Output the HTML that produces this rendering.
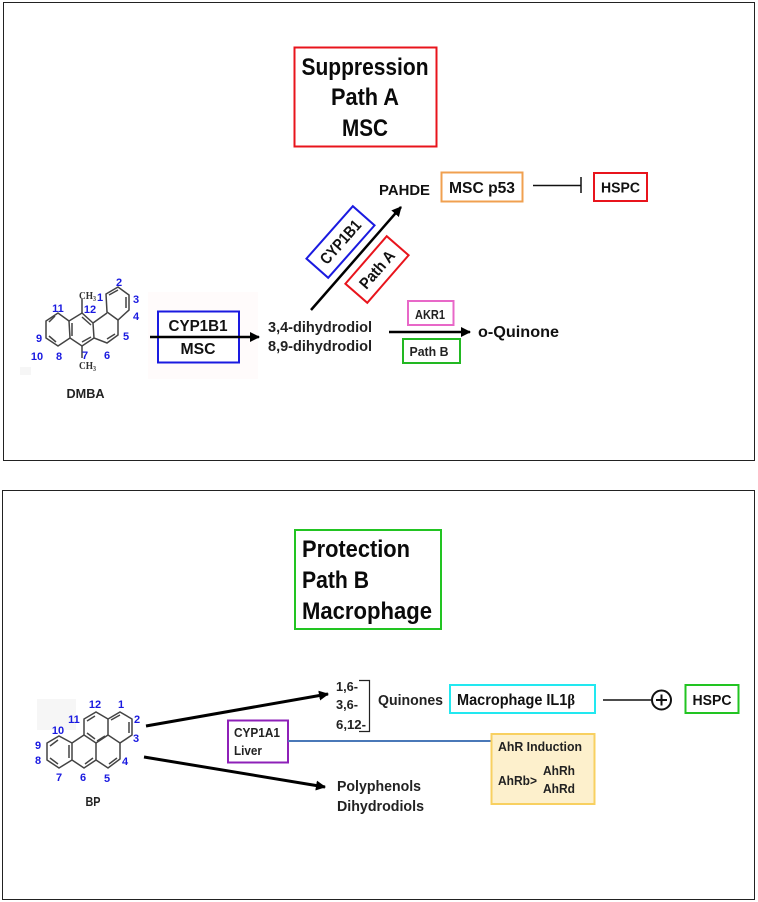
<!DOCTYPE html>
<html><head><meta charset="utf-8"><style>
html,body{margin:0;padding:0;background:#fff;width:758px;height:902px;overflow:hidden}
svg{display:block;font-family:"Liberation Sans",sans-serif;font-weight:bold}
</style></head><body>
<svg width="758" height="902" viewBox="0 0 758 902" xmlns="http://www.w3.org/2000/svg">
<defs>
<marker id="ah" markerUnits="userSpaceOnUse" markerWidth="12" markerHeight="12" refX="9" refY="5" orient="auto"><path d="M0 0L10 5L0 10Z" fill="#000"/></marker>
</defs>
<!-- panels -->
<rect x="3.5" y="2.5" width="751" height="458" fill="#fff" stroke="#222" stroke-width="1"/>
<rect x="2.5" y="490.5" width="752" height="409" fill="#fff" stroke="#222" stroke-width="1"/>
<rect x="148" y="292" width="110" height="87" fill="#fffbfb"/>
<rect x="20" y="367" width="11" height="8" fill="#f6f6f6"/>
<!-- titles -->
<rect x="294.500" y="47.500" width="142" height="99" fill="none" stroke="#e8141c" stroke-width="2"/>
<g fill="#0a0a0a" font-size="24" text-anchor="middle">
<text x="365" y="75" textLength="127" lengthAdjust="spacingAndGlyphs">Suppression</text>
<text x="365" y="105" textLength="68" lengthAdjust="spacingAndGlyphs">Path A</text>
<text x="365" y="136" textLength="46" lengthAdjust="spacingAndGlyphs">MSC</text>
</g>
<rect x="295" y="530" width="146" height="99" fill="none" stroke="#22c422" stroke-width="2"/>
<g fill="#0a0a0a" font-size="24">
<text x="302" y="557" textLength="108" lengthAdjust="spacingAndGlyphs">Protection</text>
<text x="302" y="588" textLength="67" lengthAdjust="spacingAndGlyphs">Path B</text>
<text x="302" y="619" textLength="130" lengthAdjust="spacingAndGlyphs">Macrophage</text>
</g>
<!-- DMBA -->
<g fill="none" stroke="#444" stroke-width="1.500">
<path d="M118 287L129 295V310L118 320L107 312L106 294Z"/>
<path d="M118 320V335L107 343L94 338L93 323L107 313"/>
<path d="M93 323L82 313L69 321L70 338L82 346L94 338"/>
<path d="M69 321L58 313L46 321V338L58 346L70 338"/>
<path d="M82 313V299M82 346V358"/>
<path d="M109 295L118 290M126 297V308M115 334L107 339M91 325L82 317M91 337L82 342M72 323V336M55 316L49 322M49 336L56 342"/>
</g>
<g fill="#333" font-family="Liberation Serif,serif" font-size="11" font-weight="bold">
<text x="79" y="299" textLength="17" lengthAdjust="spacingAndGlyphs">CH<tspan font-size="7" dy="2">3</tspan></text>
<text x="79" y="369" textLength="17" lengthAdjust="spacingAndGlyphs">CH<tspan font-size="7" dy="2">3</tspan></text>
</g>
<g fill="#1a1ae0" font-size="11" text-anchor="middle">
<text x="119" y="286">2</text><text x="100" y="301">1</text><text x="136" y="303">3</text><text x="136" y="320">4</text>
<text x="126" y="340">5</text><text x="107" y="359">6</text><text x="85" y="359">7</text><text x="59" y="360">8</text>
<text x="39" y="342">9</text><text x="37" y="360">10</text><text x="58" y="312">11</text><text x="90" y="313">12</text>
</g>
<text x="85.500" y="398" font-size="13" text-anchor="middle" fill="#222" textLength="38" lengthAdjust="spacingAndGlyphs">DMBA</text>
<rect x="158" y="311.500" width="81" height="51" fill="#fff" stroke="#1a1ae0" stroke-width="2"/>
<text x="198" y="331" font-size="16" text-anchor="middle" fill="#111" textLength="59" lengthAdjust="spacingAndGlyphs">CYP1B1</text>
<text x="198" y="354" font-size="16" text-anchor="middle" fill="#111" textLength="35" lengthAdjust="spacingAndGlyphs">MSC</text>
<line x1="150" y1="337" x2="259" y2="337" stroke="#000" stroke-width="2.500" marker-end="url(#ah)"/>
<g fill="#222" font-size="14.500">
<text x="268" y="332" textLength="104" lengthAdjust="spacingAndGlyphs">3,4-dihydrodiol</text>
<text x="268" y="351" textLength="104" lengthAdjust="spacingAndGlyphs">8,9-dihydrodiol</text>
</g>
<line x1="311" y1="310" x2="401" y2="207" stroke="#000" stroke-width="2.500" marker-end="url(#ah)"/>
<text x="379" y="195" font-size="15" fill="#111" textLength="51" lengthAdjust="spacingAndGlyphs">PAHDE</text>
<rect x="441.500" y="172.500" width="81" height="29" fill="none" stroke="#f0a050" stroke-width="2"/>
<text x="482" y="193" font-size="16" text-anchor="middle" fill="#111" textLength="66" lengthAdjust="spacingAndGlyphs">MSC p53</text>
<line x1="533" y1="185.500" x2="581" y2="185.500" stroke="#111" stroke-width="1.500"/>
<line x1="581" y1="177" x2="581" y2="193" stroke="#111" stroke-width="1.500"/>
<rect x="594" y="173" width="53" height="28" fill="none" stroke="#e8141c" stroke-width="2"/>
<text x="620.500" y="192.500" font-size="14.500" text-anchor="middle" fill="#111" textLength="39" lengthAdjust="spacingAndGlyphs">HSPC</text>
<g transform="translate(340.500,242) rotate(-48.500)">
<rect x="-35" y="-14.500" width="70" height="29" fill="#fff" stroke="#1a1ae0" stroke-width="2"/>
<text x="0" y="5.500" font-size="16" text-anchor="middle" fill="#111" textLength="53" lengthAdjust="spacingAndGlyphs">CYP1B1</text>
</g>
<g transform="translate(377,269.500) rotate(-49)">
<rect x="-31.500" y="-14.500" width="63" height="29" fill="#fff" stroke="#e8141c" stroke-width="2"/>
<text x="0" y="5.500" font-size="16" text-anchor="middle" fill="#111" textLength="45" lengthAdjust="spacingAndGlyphs">Path A</text>
</g>
<rect x="408" y="301" width="45.500" height="24" fill="none" stroke="#e868c8" stroke-width="2"/>
<text x="430" y="319" font-size="12.500" text-anchor="middle" fill="#222" textLength="30" lengthAdjust="spacingAndGlyphs">AKR1</text>
<line x1="389" y1="332" x2="470" y2="332" stroke="#000" stroke-width="2.500" marker-end="url(#ah)"/>
<text x="478" y="337" font-size="16" fill="#111" textLength="81" lengthAdjust="spacingAndGlyphs">o-Quinone</text>
<rect x="403" y="339" width="57" height="24" fill="none" stroke="#22b822" stroke-width="2"/>
<text x="429" y="356" font-size="12.500" text-anchor="middle" fill="#222" textLength="39" lengthAdjust="spacingAndGlyphs">Path B</text>
<!-- BP -->
<rect x="37" y="699" width="39" height="31" fill="#f6f6f6"/>
<g fill="none" stroke="#444" stroke-width="1.500">
<path d="M120 712L132 719V735L120 743L108 735V719Z"/>
<path d="M108 719L96 712L84 719V735L96 743L108 735"/>
<path d="M120 743V759L108 768L96 760V743"/>
<path d="M96 760L84 768L72 760V743L84 735"/>
<path d="M72 743L59 736L47 743V760L59 768L72 760"/>
<path d="M111 720L120 715M129 722V733M87 721L95 716M87 733L95 739M105 736L97 741M117 758L109 764M93 758L85 764M69 745V758M50 746L58 740M50 758L58 764"/>
</g>
<g fill="#1a1ae0" font-size="11" text-anchor="middle">
<text x="121" y="708">1</text><text x="137" y="723">2</text><text x="136" y="742">3</text><text x="125" y="765">4</text>
<text x="107" y="782">5</text><text x="83" y="781">6</text><text x="59" y="781">7</text><text x="38" y="764">8</text>
<text x="38" y="749">9</text><text x="58" y="734">10</text><text x="74" y="723">11</text><text x="95" y="708">12</text>
</g>
<text x="93" y="806" font-size="13" text-anchor="middle" fill="#222" textLength="15" lengthAdjust="spacingAndGlyphs">BP</text>
<line x1="146" y1="726" x2="328" y2="694" stroke="#000" stroke-width="3" marker-end="url(#ah)"/>
<line x1="144" y1="757" x2="325" y2="787" stroke="#000" stroke-width="3" marker-end="url(#ah)"/>
<rect x="228" y="720.500" width="60" height="42" fill="#fff" stroke="#8e20b8" stroke-width="2"/>
<text x="234" y="737" font-size="13" fill="#222" textLength="46" lengthAdjust="spacingAndGlyphs">CYP1A1</text>
<text x="234" y="755" font-size="13" fill="#222" textLength="28" lengthAdjust="spacingAndGlyphs">Liver</text>
<line x1="288" y1="741" x2="491" y2="741" stroke="#4a78b8" stroke-width="2"/>
<g fill="#222" font-size="12.500">
<text x="336" y="691" textLength="22" lengthAdjust="spacingAndGlyphs">1,6-</text>
<text x="336" y="709" textLength="22" lengthAdjust="spacingAndGlyphs">3,6-</text>
<text x="336" y="729" textLength="30" lengthAdjust="spacingAndGlyphs">6,12-</text>
</g>
<path d="M359 680.500H369.500V731.500H359" fill="none" stroke="#222" stroke-width="1.200"/>
<text x="378" y="705" font-size="14.500" fill="#222" textLength="65" lengthAdjust="spacingAndGlyphs">Quinones</text>
<rect x="450" y="685" width="145" height="28" fill="none" stroke="#22e8f0" stroke-width="2"/>
<text x="457" y="705" font-size="16" fill="#111" textLength="118" lengthAdjust="spacingAndGlyphs">Macrophage IL1<tspan font-family="Liberation Serif,serif">β</tspan></text>
<line x1="603" y1="700" x2="651" y2="700" stroke="#111" stroke-width="1.500"/>
<circle cx="661.500" cy="700" r="9.500" fill="#fff" stroke="#111" stroke-width="2"/>
<path d="M656 700H667M661.500 694.500V705.500" stroke="#111" stroke-width="2"/>
<rect x="685.500" y="685" width="53" height="28" fill="none" stroke="#22c422" stroke-width="2"/>
<text x="712" y="705" font-size="14.500" text-anchor="middle" fill="#111" textLength="39" lengthAdjust="spacingAndGlyphs">HSPC</text>
<rect x="491.500" y="734" width="103" height="70" fill="#fdf0cc" stroke="#f8d060" stroke-width="2"/>
<g fill="#222" font-size="13">
<text x="498" y="751" textLength="84" lengthAdjust="spacingAndGlyphs">AhR Induction</text>
<text x="498" y="785" textLength="39" lengthAdjust="spacingAndGlyphs">AhRb&gt;</text>
<text x="543" y="775" textLength="32" lengthAdjust="spacingAndGlyphs">AhRh</text>
<text x="543" y="793" textLength="32" lengthAdjust="spacingAndGlyphs">AhRd</text>
</g>
<g fill="#222" font-size="14.500">
<text x="337" y="791" textLength="84" lengthAdjust="spacingAndGlyphs">Polyphenols</text>
<text x="337" y="811" textLength="87" lengthAdjust="spacingAndGlyphs">Dihydrodiols</text>
</g>
</svg>
</body></html>
